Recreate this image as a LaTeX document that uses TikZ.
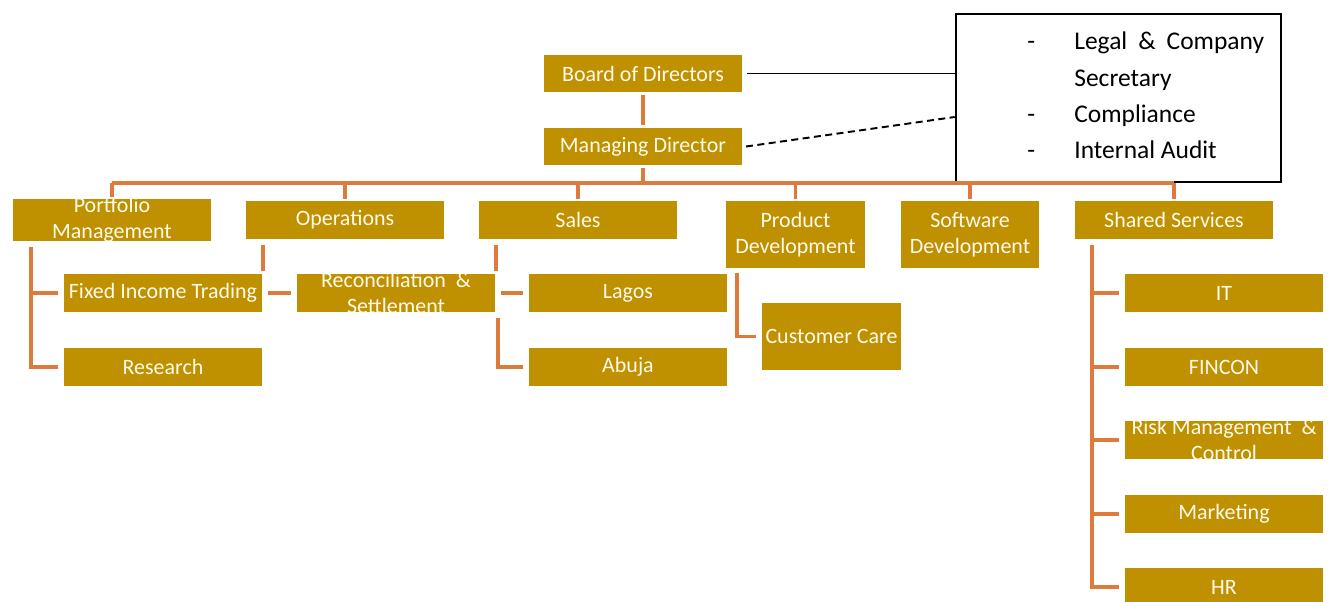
\documentclass[tikz,border=0pt]{standalone}
\usepackage{fontspec}
\setmainfont{Carlito}
\usepackage{array}

\definecolor{gold}{HTML}{BF9000}
\definecolor{linkorange}{HTML}{DE7A3C}
\definecolor{cream}{HTML}{FFFBEC}

\tikzset{
	unit/.style={fill=gold, draw=white, line width=1.2pt, inner sep=0pt,
		minimum width=4cm, minimum height=0.8cm, align=center,
		text=cream, font=\fontsize{12.5}{14.6}\selectfont},
	tallunit/.style={unit, minimum width=2.82cm, minimum height=1.38cm},
	link/.style={draw=linkorange, line width=2pt},
}

\begin{document}
\begin{tikzpicture}[x=0.02cm,y=-0.02cm]
		\useasboundingbox (0,0) rectangle (1330,602);

		% top of the chart
		\node[draw=black, line width=1.5pt, minimum width=6.5cm, minimum height=3.36cm] (sec) at (1118.5,98) {};
		\node[anchor=west, inner sep=0pt, font=\fontsize{14.5}{20.6}\selectfont] (secitems) at (1027,97)
			{\begin{tabular}{@{}p{0.94cm}@{}l@{}}
				- & Legal\hspace{3pt} \&\hspace{3pt} Company\\
				  & Secretary\\
				- & Compliance\\
				- & Internal Audit
			\end{tabular}};

		\draw[link] (643,94) -- (643,126);
		\draw[link] (643,167) -- (643,183) coordinate (bus);

		% connectors first, boxes drawn over them
		\draw[link] (112,183) -- (1174,183);
		\foreach \x in {112,345,578,795.5,970,1174}
			\draw[link] (\x,183) -- (\x,200);

		\node[unit] (bod) at (643,73.5) {Board of Directors};
		\node[unit] (md) at (643,146.5) {Managing Director};
		\draw[black, line width=0.8pt] (bod.east) ++(3,0) -- (bod.east -| sec.west);
		\draw[black, line width=1.1pt, dash pattern=on 4pt off 2.5pt] (md.east) ++(2,0) -- ([yshift=-0.38cm]sec.west);

		\node[unit] (pm) at (112,220) {Portfolio\\Management};
		\node[unit] (ops) at (345,220) {Operations};
		\node[unit] (sales) at (578,220) {Sales};
		\node[tallunit] (pd) at (795.5,234.5) {Product\\Development};
		\node[tallunit] (sd) at (970,234.5) {Software\\Development};
		\node[unit] (ss) at (1174,220) {Shared Services};

		\node[unit] (fit) at (163,293) {Fixed Income Trading};
		\node[unit] (res) at (163,367) {Research};
		\node[unit] (rec) at (396,293) {Reconciliation~~\&\\Settlement};
		\node[unit] (lagos) at (628,293) {Lagos};
		\node[unit] (abuja) at (628,367) {Abuja};
		\node[tallunit] (cc) at (831.5,336.5) {Customer Care};

		\node[unit] (it) at (1224,293) {IT};
		\node[unit] (fincon) at (1224,367) {FINCON};
		\node[unit] (risk) at (1224,440) {Risk Management~~\&\\Control};
		\node[unit] (mkt) at (1224,514) {Marketing};
		\node[unit] (hr) at (1224,587) {HR};

		% branches below the second row
		\foreach \n in {fit,res}
			\draw[link] (pm.south west) ++(20,4) |- ([xshift=-2pt]\n.west);
		\draw[link] (ops.south west) ++(19,4) -- ++(0,26);
		\draw[link] ([xshift=2pt]fit.east) -- ([xshift=-2pt]rec.west);
		\draw[link] (sales.south west) ++(19,4) -- ++(0,26);
		\draw[link] (rec.south east) ++(1,3) |- ([xshift=-2pt]abuja.west);
		\draw[link] ([xshift=2pt]rec.east) -- ([xshift=-2pt]lagos.west);
		\draw[link] (pd.south west) ++(13,3) |- ([xshift=-2pt]cc.west);
		\foreach \n in {it,fincon,risk,mkt,hr}
			\draw[link] (ss.south west) ++(19,4) |- ([xshift=-2pt]\n.west);
\end{tikzpicture}
\end{document}
